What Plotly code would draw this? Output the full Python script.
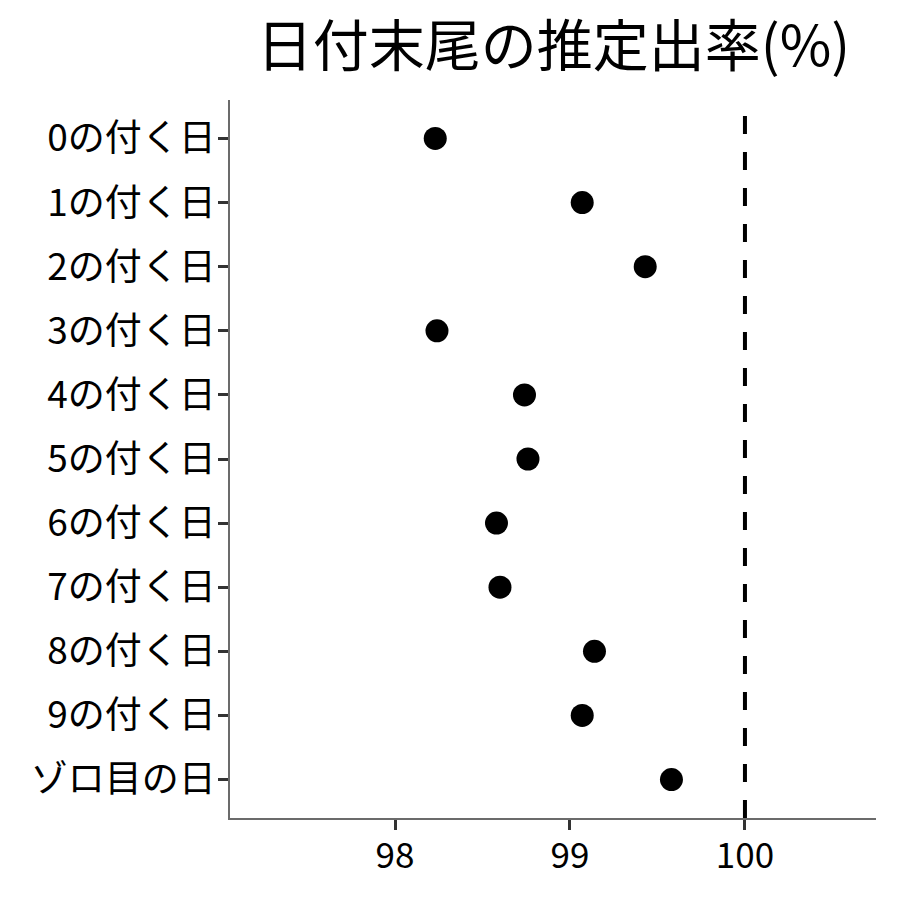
import plotly.graph_objects as go

categories = ["0の付く日", "1の付く日", "2の付く日", "3の付く日", "4の付く日",
              "5の付く日", "6の付く日", "7の付く日", "8の付く日", "9の付く日", "ゾロ目の日"]
rates = [98.23, 99.07, 99.43, 98.24, 98.74, 98.76, 98.58, 98.60, 99.14, 99.07, 99.58]
ref_value = 100
x_ticks = [98, 99, 100]
title_text = "日付末尾の推定出率(%)"

FONT = "Noto Sans CJK JP"

fig = go.Figure()
fig.add_trace(go.Scatter(
    x=rates, y=categories, mode="markers",
    marker=dict(color="black", size=23, line=dict(width=0)),
    showlegend=False, hoverinfo="x+y"))

fig.add_shape(type="line", xref="x", yref="paper", x0=ref_value, x1=ref_value, y0=0, y1=1,
              line=dict(color="black", width=4, dash="18px,18px"))

fig.update_layout(
    width=892, height=892,
    paper_bgcolor="white", plot_bgcolor="white",
    margin=dict(l=222, r=24, t=92, b=82),
    font=dict(family=FONT, color="black"),
    title=dict(text=title_text, x=0.6116, xanchor="center", y=0.957, yanchor="middle",
               font=dict(size=56, family=FONT, color="black")),
)
fig.update_xaxes(range=[97.057, 100.749], tickvals=x_ticks, ticktext=[str(v) for v in x_ticks],
                 showgrid=False, zeroline=False, showline=True, linecolor="#6b6b6b", linewidth=1.5,
                 ticks="outside", ticklen=10, tickwidth=3, tickcolor="#333333",
                 ticklabelstandoff=-4,
                 tickfont=dict(size=35, family=FONT, color="black"))
fig.update_yaxes(categoryorder="array", categoryarray=categories, autorange=False,
                 range=[len(categories) - 0.4, -0.6],
                 showgrid=False, zeroline=False, showline=True, linecolor="#6b6b6b", linewidth=1.5,
                 ticks="outside", ticklen=10, tickwidth=3, tickcolor="#333333",
                 ticklabelstandoff=-5,
                 tickfont=dict(size=37, family=FONT, color="black"))

fig.write_html("out.html")
